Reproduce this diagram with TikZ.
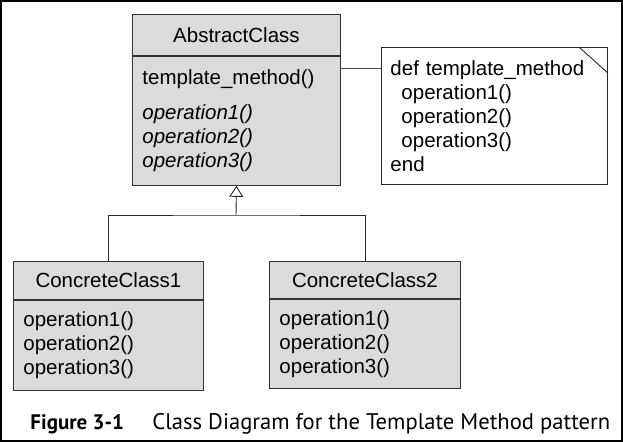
\documentclass[tikz,border=0pt]{standalone}
\usepackage{fontspec}
\setmainfont{Liberation Sans}
\newfontfamily\capfont{PT Sans}
\usepackage{tikz}
\usetikzlibrary{arrows.meta}

\begin{document}
\begin{tikzpicture}[x=1pt, y=-1pt, line width=0.9pt, font=\fontsize{20.5}{24}\selectfont,
	classhead/.style={draw=black!80, fill=gray!28, anchor=north west, inner sep=0pt},
	classbody/.style={draw=black!80, fill=gray!28, anchor=north west, inner xsep=10pt, inner ysep=0pt, align=left},
	notebox/.style={draw=black!85, fill=white, anchor=north west, inner xsep=9pt, inner ysep=0pt, align=left}]
	\useasboundingbox (0,0) rectangle (623,442);
	\draw[line width=2pt] (1,1) rectangle (622,441);
	% abstract class
	\node[classhead, minimum width=208pt, minimum height=41pt] (absHead) at (132,14) {AbstractClass};
	\node[classbody, text width=188pt, minimum height=129pt] (absBody) at (absHead.south west)
		{template\_method()\\[11pt] \textit{operation1()}\\ \textit{operation2()}\\ \textit{operation3()}};
	% note
	\node[notebox, text width=208pt, minimum height=137pt] (note) at (381,47)
		{def template\_method\\ \hspace{11pt}operation1()\\ \hspace{11pt}operation2()\\ \hspace{11pt}operation3()\\ end};
	\draw[black!85] ([xshift=-29pt]note.north east) -- ([yshift=-26pt]note.north east);
	\coordinate (tm) at (340,68);
	\draw[black!70] (tm) -- (tm -| note.west);
	% concrete classes
	\node[classhead, minimum width=190pt, minimum height=38pt] (c1Head) at (13,261) {ConcreteClass1};
	\node[classbody, text width=170pt, minimum height=90pt] (c1Body) at (c1Head.south west)
		{operation1()\\ operation2()\\ operation3()};
	\node[classhead, minimum width=191pt, minimum height=37pt] (c2Head) at (269,261) {ConcreteClass2};
	\node[classbody, text width=171pt, minimum height=89pt] (c2Body) at (c2Head.south west)
		{operation1()\\ operation2()\\ operation3()};
	% inheritance
	\coordinate (join) at (236,215);
	\draw[black!85] (c1Head.north) |- (join) -| (c2Head.north);
	\draw[black!85, -{Triangle[open, width=14pt, length=11pt]}] (join) -- (absBody.south);
	% caption
	\node[anchor=base west, inner sep=0pt, font=\capfont\bfseries\fontsize{21}{22}\selectfont] (figNo) at (30,429) {Figure 3-1};
	\node[anchor=base west, inner sep=0pt, font=\capfont\fontsize{22.6}{24}\selectfont] (figText) at (152,429) {Class Diagram for the Template Method pattern};
\end{tikzpicture}
\end{document}
